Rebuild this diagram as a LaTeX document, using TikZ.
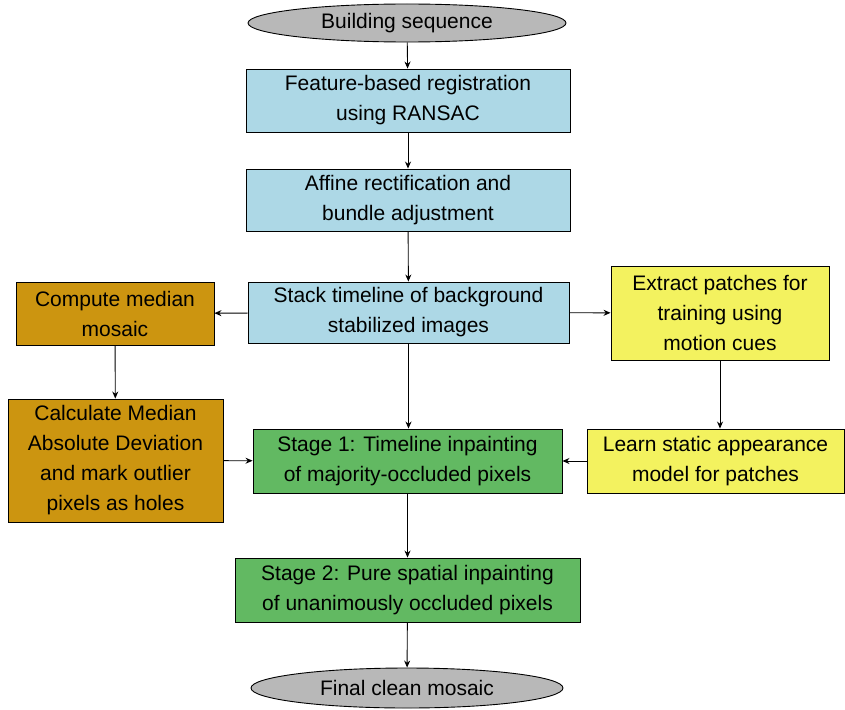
\documentclass[tikz,border=0pt]{standalone}
\usepackage{fontspec}
\setmainfont{Liberation Sans}
\usetikzlibrary{shapes.geometric,arrows.meta}
\definecolor{stepblue}{RGB}{173,216,230}
\definecolor{stepgold}{RGB}{204,149,16}
\definecolor{stepyellow}{RGB}{243,242,95}
\definecolor{stepgreen}{RGB}{98,185,98}
\definecolor{termgray}{RGB}{184,184,184}

\begin{document}
\begin{tikzpicture}[
  x=1pt, y=-1pt,
  every node/.style={font=\fontsize{21}{30}\selectfont, align=center, inner sep=0pt},
  term/.style={ellipse, draw, fill=termgray, line width=0.9pt, minimum width=318pt, minimum height=38pt},
  box/.style={rectangle, draw, line width=0.9pt},
  flow/.style={-{Stealth[length=7pt,width=6pt]}, line width=0.9pt}
]
\useasboundingbox (0,0) rectangle (845,709);
\node[term] (start) at (407,23) {Building sequence};
\node[box, fill=stepblue, minimum width=324pt, minimum height=63pt] (register) at (408,100.5) {Feature-based registration\\using RANSAC};
\node[box, fill=stepblue, minimum width=324pt, minimum height=62pt] (rectify) at (408,200) {Affine rectification and\\bundle adjustment};
\node[box, fill=stepblue, minimum width=321pt, minimum height=61pt] (stack) at (408.5,312.5) {Stack timeline of background\\stabilized images};
\node[box, fill=stepgold, minimum width=198pt, minimum height=63pt] (median) at (115,313.5) {Compute median\\mosaic};
\node[box, fill=stepgold, minimum width=215pt, minimum height=123pt] (mad) at (115.5,460.5) {Calculate Median\\Absolute Deviation\\and mark outlier\\pixels as holes};
\node[box, fill=stepyellow, minimum width=218pt, minimum height=94pt] (extract) at (720,313) {Extract patches for\\training using\\motion cues};
\node[box, fill=stepyellow, minimum width=257pt, minimum height=64pt] (learn) at (715.5,461) {Learn static appearance\\model for patches};
\node[box, fill=stepgreen, minimum width=309pt, minimum height=64pt] (stage1) at (407.5,461) {Stage 1: Timeline inpainting\\of majority-occluded pixels};
\node[box, fill=stepgreen, minimum width=345pt, minimum height=64pt] (stage2) at (407.5,590) {Stage 2: Pure spatial inpainting\\of unanimously occluded pixels};
\node[term, minimum width=312pt, minimum height=40pt] (final) at (407,688) {Final clean mosaic};

\draw[flow] (start) -- (register);
\draw[flow] (register) -- (rectify);
\draw[flow] (rectify) -- (stack);
\draw[flow] (stack) -- (median);
\draw[flow] (stack) -- (extract);
\draw[flow] (median) -- (mad);
\draw[flow] (stack.south) -- (stage1.north -| stack.south);
\draw[flow] (mad) -- (stage1);
\draw[flow] (extract.south) -- (extract.south |- learn.north);
\draw[flow] (learn) -- (stage1);
\draw[flow] (stage1) -- (stage2);
\draw[flow] (stage2) -- (final);
\end{tikzpicture}
\end{document}
